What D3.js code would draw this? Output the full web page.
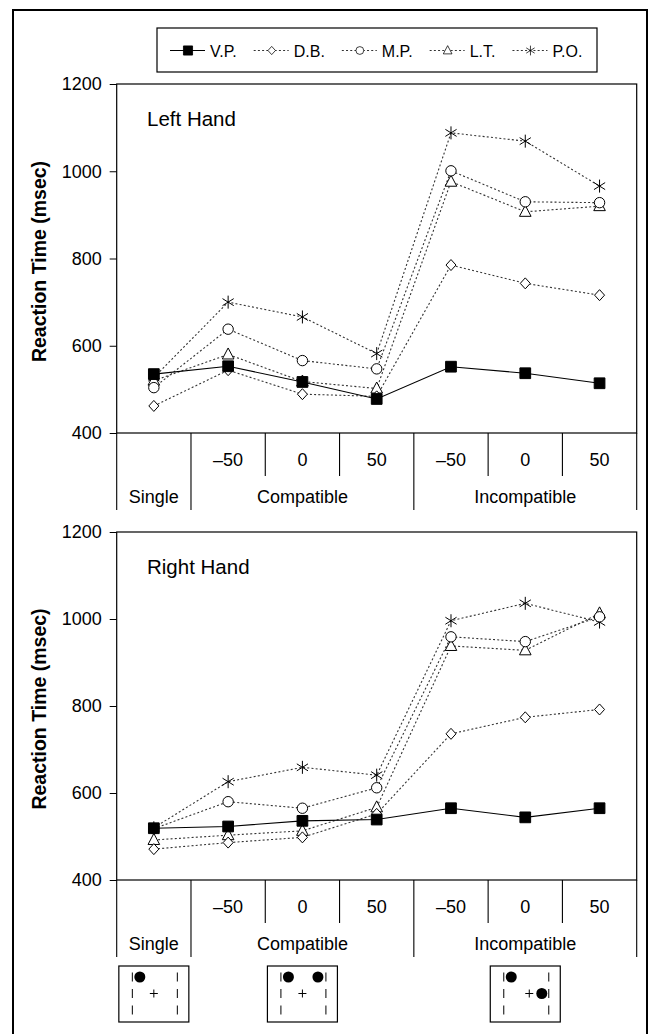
<!DOCTYPE html>
<html>
<head>
<meta charset="utf-8">
<script src="https://cdn.jsdelivr.net/npm/d3@7"></script>
<style>
  html, body { margin: 0; padding: 0; background: #fff; }
  svg { display: block; font-family: Arial, "Liberation Sans", Helvetica, sans-serif; }
</style>
</head>
<body>
<div id="chart"></div>
<script>
// Reaction time by condition, two panels (left / right hand), five subjects.

const CATEGORIES = ["single", "c-50", "c0", "c50", "i-50", "i0", "i50"];
const TICK_LABELS = ["", "\u201350", "0", "50", "\u201350", "0", "50"];
const GROUPS = [
  { label: "Single", from: 0, to: 0 },
  { label: "Compatible", from: 1, to: 3 },
  { label: "Incompatible", from: 4, to: 6 },
];
const Y_TICKS = [400, 600, 800, 1000, 1200];

const SUBJECTS = ["V.P.", "D.B.", "M.P.", "L.T.", "P.O."];
const MARKERS = ["square", "diamond", "circle", "triangle", "asterisk"];

const LEFT_HAND = [
  [535, 553, 517, 478, 552, 537, 514],
  [462, 544, 489, 484, 785, 743, 716],
  [504, 638, 566, 547, 1001, 930, 928],
  [520, 580, 518, 502, 976, 907, 920],
  [527, 700, 666, 582, 1088, 1069, 966],
];
const RIGHT_HAND = [
  [519, 523, 536, 539, 565, 544, 565],
  [471, 486, 498, 552, 736, 774, 792],
  [518, 580, 565, 612, 959, 948, 1005],
  [492, 503, 513, 567, 938, 928, 1013],
  [520, 626, 659, 641, 996, 1036, 993],
];

// stimulus display drawn under each condition group
const STIMULI = [
  { dots: ["topLeft"], fixation: "center" },
  { dots: ["topLeft", "topRight"], fixation: "center" },
  { dots: ["topLeft", "midRight"], fixation: "shifted" },
];

const W = 649, H = 1034;
const plotLeft = 116.7, plotRight = 636.7;
const PANELS = [
  { title: "Left Hand", data: LEFT_HAND, top: 84, bottom: 433 },
  { title: "Right Hand", data: RIGHT_HAND, top: 532, bottom: 880 },
];

const svg = d3.select("#chart").append("svg")
  .attr("width", W).attr("height", H);

// outer frame
svg.append("rect")
  .attr("x", 13).attr("y", 10).attr("width", 634).attr("height", H + 20)
  .attr("fill", "none").attr("stroke", "#000").attr("stroke-width", 2);

const x = d3.scaleBand().domain(CATEGORIES).range([plotLeft, plotRight]).padding(0);
const cx = (c) => x(c) + x.bandwidth() / 2;

function markerPath(type) {
  switch (type) {
    case "square": return d3.symbol(d3.symbolSquare, 115)();
    case "diamond": return "M0,-5.5L5,0L0,5.5L-5,0Z";
    case "circle": return d3.symbol(d3.symbolCircle, 85)();
    case "triangle": return "M0,-6.5L5.8,4.5L-5.8,4.5Z";
    case "asterisk": return "M0,-6.5V6.5M-5.6,-3.5L5.6,3.5M-5.6,3.5L5.6,-3.5";
  }
}

function drawMarker(g, type) {
  return g.append("path")
    .attr("d", markerPath(type))
    .attr("fill", type === "square" ? "#000" : type === "asterisk" ? "none" : "#fff")
    .attr("stroke", "#000")
    .attr("stroke-width", 1);
}

const lineStyle = (i) => i === 0
  ? { color: "#000", dash: null, width: 1.1 }
  : { color: "#333", dash: "2,2.2", width: 1.1 };

const FONT = "Arial, 'Liberation Sans', sans-serif";

PANELS.forEach((p) => {
  const y = d3.scaleLinear().domain([400, 1200]).range([p.bottom, p.top]);
  const g = svg.append("g");

  // plot frame
  g.append("rect")
    .attr("x", plotLeft).attr("y", p.top)
    .attr("width", plotRight - plotLeft).attr("height", p.bottom - p.top)
    .attr("fill", "none").attr("stroke", "#000").attr("stroke-width", 1.2);

  // y axis ticks + labels
  const axis = d3.axisLeft(y).tickValues(Y_TICKS).tickFormat(d3.format("d"))
    .tickSize(7).tickPadding(8);
  const ax = g.append("g").attr("transform", `translate(${plotLeft},0)`).call(axis);
  ax.select(".domain").remove();
  ax.attr("font-family", FONT).attr("font-size", 18);
  ax.selectAll("line").attr("stroke", "#000");
  ax.selectAll("text").attr("fill", "#000");

  g.append("text")
    .attr("transform", `translate(46,${(p.top + p.bottom) / 2 + 3}) rotate(-90)`)
    .attr("text-anchor", "middle")
    .attr("font-size", 19.5).attr("font-weight", "bold")
    .text("Reaction Time (msec)");

  g.append("text")
    .attr("x", 147).attr("y", p.top + 42)
    .attr("font-size", 20.5)
    .text(p.title);

  // category table under the axis
  const groupEdges = new Set();
  GROUPS.forEach((gr) => { groupEdges.add(gr.from); groupEdges.add(gr.to + 1); });
  d3.range(CATEGORIES.length + 1).forEach((i) => {
    const xx = i < CATEGORIES.length ? x(CATEGORIES[i]) : plotRight;
    const long = groupEdges.has(i);
    g.append("line")
      .attr("x1", xx).attr("x2", xx)
      .attr("y1", p.bottom).attr("y2", p.bottom + (long ? 77 : 43))
      .attr("stroke", "#000").attr("stroke-width", 1.1);
  });
  CATEGORIES.forEach((c, i) => {
    g.append("text")
      .attr("x", cx(c)).attr("y", p.bottom + 33)
      .attr("text-anchor", "middle").attr("font-size", 18)
      .text(TICK_LABELS[i]);
  });
  GROUPS.forEach((gr) => {
    const mid = (x(CATEGORIES[gr.from]) + x(CATEGORIES[gr.to]) + x.bandwidth()) / 2;
    g.append("text")
      .attr("x", mid).attr("y", p.bottom + 70)
      .attr("text-anchor", "middle").attr("font-size", 18)
      .text(gr.label);
  });

  // series lines (dotted ones first so V.P. sits on top)
  const order = [4, 3, 2, 1, 0];
  order.forEach((s) => {
    const st = lineStyle(s);
    const line = d3.line().x((d, i) => cx(CATEGORIES[i])).y((d) => y(d));
    g.append("path")
      .attr("d", line(p.data[s]))
      .attr("fill", "none")
      .attr("stroke", st.color)
      .attr("stroke-width", st.width)
      .attr("stroke-dasharray", st.dash);
  });
  order.forEach((s) => {
    p.data[s].forEach((v, i) => {
      const m = g.append("g").attr("transform", `translate(${cx(CATEGORIES[i])},${y(v)})`);
      drawMarker(m, MARKERS[s]);
    });
  });
});

// legend
const legend = svg.append("g");
legend.append("rect")
  .attr("x", 157).attr("y", 28).attr("width", 440).attr("height", 44)
  .attr("fill", "#fff").attr("stroke", "#000").attr("stroke-width", 1.2);
let lx = 170;
const ly = 50.5;
SUBJECTS.forEach((name, s) => {
  const st = lineStyle(s);
  legend.append("line")
    .attr("x1", lx).attr("x2", lx + 35).attr("y1", ly).attr("y2", ly)
    .attr("stroke", st.color).attr("stroke-width", st.width)
    .attr("stroke-dasharray", st.dash);
  const m = legend.append("g")
    .attr("transform", `translate(${lx + 18},${ly}) scale(${s === 0 ? 0.85 : 0.75})`);
  drawMarker(m, MARKERS[s]);
  const t = legend.append("text")
    .attr("x", lx + 40).attr("y", ly + 6)
    .attr("font-size", 16)
    .text(name);
  lx += 40 + t.node().getComputedTextLength() + 17;
});

// stimulus icons under the bottom panel
const boxW = 70, boxH = 56, boxTop = 966;
const SLOT = {
  topLeft: [21, 11], topRight: [50.5, 11], midRight: [51.5, 27.5],
};
const FIX = { center: 35, shifted: 39 };
STIMULI.forEach((stim, k) => {
  const gr = GROUPS[k];
  const mid = (x(CATEGORIES[gr.from]) + x(CATEGORIES[gr.to]) + x.bandwidth()) / 2;
  const ig = svg.append("g").attr("transform", `translate(${mid - boxW / 2},${boxTop})`);
  ig.append("rect").attr("width", boxW).attr("height", boxH)
    .attr("fill", "#fff").attr("stroke", "#000").attr("stroke-width", 1.2);
  [13.5, 58.5].forEach((bx) => {
    [11, 27.5, 44].forEach((by) => {
      ig.append("line").attr("x1", bx).attr("x2", bx)
        .attr("y1", by - 4.5).attr("y2", by + 4.5)
        .attr("stroke", "#000").attr("stroke-width", 1);
    });
  });
  const fx = FIX[stim.fixation];
  ig.append("path")
    .attr("d", `M${fx - 4},27.5H${fx + 4}M${fx},23.5V31.5`)
    .attr("stroke", "#000").attr("stroke-width", 1);
  stim.dots.forEach((slot) => {
    ig.append("circle")
      .attr("cx", SLOT[slot][0]).attr("cy", SLOT[slot][1]).attr("r", 5.5)
      .attr("fill", "#000");
  });
});
</script>
</body>
</html>
